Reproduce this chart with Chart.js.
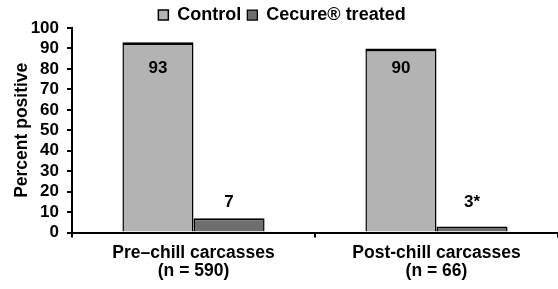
<!DOCTYPE html>
<html>
<head>
<meta charset="utf-8">
<script src="https://cdn.jsdelivr.net/npm/chart.js@4.4.1/dist/chart.umd.min.js"></script>
<style>
html,body{margin:0;padding:0;background:#fff;}
#wrap{width:558px;height:289px;}
</style>
</head>
<body>
<div id="wrap"><canvas id="c" width="558" height="289"></canvas></div>
<script>
const categories = [["Pre–chill carcasses", "(n = 590)"], ["Post-chill carcasses", "(n = 66)"]];
const seriesNames = ["Control", "Cecure\u00AE treated"];
const controlValues = [93, 90];
const treatedValues = [7, 3];
const controlLabels = ["93", "90"];
const treatedLabels = ["7", "3*"];
const yTicks = [0, 10, 20, 30, 40, 50, 60, 70, 80, 90, 100];

const FONT = "'Liberation Sans', Arial, sans-serif";

const valueLabels = {
  id: 'valueLabels',
  afterDatasetsDraw(chart) {
    const ctx = chart.ctx;
    const y = chart.scales.y;
    const sets = [
      {meta: chart.getDatasetMeta(0), labels: controlLabels, at: 80.5},
      {meta: chart.getDatasetMeta(1), labels: treatedLabels, at: 15}
    ];
    ctx.save();
    ctx.font = "bold 17px " + FONT;
    ctx.fillStyle = "#000";
    ctx.textAlign = "center";
    ctx.textBaseline = "middle";
    sets.forEach(s => {
      s.meta.data.forEach((bar, i) => {
        ctx.fillText(s.labels[i], bar.x, y.getPixelForValue(s.at));
      });
    });
    ctx.restore();
  }
};

new Chart(document.getElementById('c'), {
  type: 'bar',
  data: {
    labels: categories,
    datasets: [
      {
        label: seriesNames[0],
        data: controlValues,
        backgroundColor: '#b3b3b3',
        borderColor: '#000',
        borderWidth: {top: 3, left: 1.5, right: 1.5, bottom: 0},
        borderSkipped: false,
        barPercentage: 1,
        categoryPercentage: 0.585
      },
      {
        label: seriesNames[1],
        data: treatedValues,
        backgroundColor: '#6f6f6f',
        borderColor: '#000',
        borderWidth: {top: 2, left: 1.5, right: 1.5, bottom: 0},
        borderSkipped: false,
        barPercentage: 1,
        categoryPercentage: 0.585
      }
    ]
  },
  options: {
    responsive: false,
    animation: false,
    devicePixelRatio: 1,
    layout: {padding: {left: 0, right: -6, top: 0, bottom: 2}},
    plugins: {
      legend: {
        display: true,
        position: 'top',
        maxHeight: 28,
        labels: {
          color: '#000',
          font: {family: FONT, size: 18, weight: 'bold'},
          boxWidth: 10,
          boxHeight: 10,
          padding: 6
        }
      },
      tooltip: {enabled: false}
    },
    scales: {
      x: {
        grid: {display: true, drawOnChartArea: false, drawTicks: true, tickLength: 5, color: '#000', lineWidth: 2, offset: true},
        border: {display: true, color: '#000', width: 2},
        ticks: {color: '#000', font: {family: FONT, size: 17.5, weight: 'bold', lineHeight: 1.07}, padding: 6, maxRotation: 0}
      },
      y: {
        min: 0,
        max: 100,
        afterBuildTicks(axis) { axis.ticks = yTicks.map(v => ({value: v})); },
        afterFit(axis) { axis.width = 72; },
        grid: {display: true, drawOnChartArea: false, drawTicks: true, tickLength: 5, color: '#000', lineWidth: 2},
        border: {display: true, color: '#000', width: 2},
        ticks: {color: '#000', font: {family: FONT, size: 17, weight: 'bold'}, padding: 8, autoSkip: false},
        title: {display: true, text: 'Percent positive', color: '#000', font: {family: FONT, size: 17.5, weight: 'bold'}, padding: {top: 12, bottom: 0}}
      }
    }
  },
  plugins: [valueLabels]
});
</script>
</body>
</html>
